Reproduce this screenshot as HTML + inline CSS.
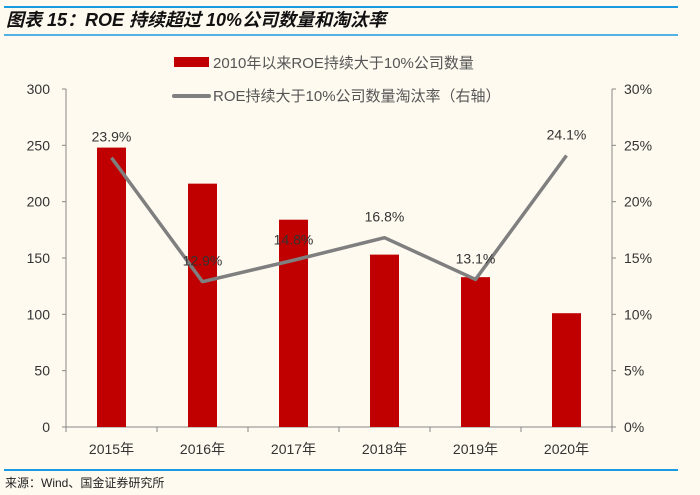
<!DOCTYPE html>
<html><head><meta charset="utf-8"><style>
body{margin:0;background:#fffaf0;}
svg{display:block;font-family:"Liberation Sans","Noto Sans CJK SC",sans-serif;}
</style></head><body>
<svg width="700" height="495">
<rect width="700" height="495" fill="#fffaf0"/>
<line x1="4" y1="7" x2="678" y2="7" stroke="#1a9ae0" stroke-width="2"/>
<text x="6" y="26" font-size="18" font-weight="bold" font-style="italic" fill="#111">图表 15：ROE 持续超过 10%公司数量和淘汰率</text>
<line x1="4" y1="35" x2="678" y2="35" stroke="#1a9ae0" stroke-width="1.5"/>
<rect x="174" y="57" width="35" height="10" fill="#c00000"/>
<text x="213" y="68" font-size="15" fill="#555">2010年以来ROE持续大于10%公司数量</text>
<line x1="174" y1="96" x2="209" y2="96" stroke="#7f7f7f" stroke-width="4" stroke-linecap="round"/>
<text x="213" y="101" font-size="15" fill="#555">ROE持续大于10%公司数量淘汰率（右轴）</text>
<g id="axes"></g><g id="marks"></g>
<line x1="4" y1="470" x2="678" y2="470" stroke="#1a9ae0" stroke-width="2"/>
<text x="5" y="487" font-size="12" fill="#222">来源：Wind、国金证券研究所</text>
</svg>
<script>
const categories=["2015年","2016年","2017年","2018年","2019年","2020年"];
const counts=[248,216,184,153,133,101];
const rates=[23.9,12.9,14.8,16.8,13.1,24.1];
const leftTicks=[0,50,100,150,200,250,300];
const rightTicks=[0,5,10,15,20,25,30];
const NS="http://www.w3.org/2000/svg";
const X0=66,X1=612,Y0=427,Y1=89;
const band=(X1-X0)/categories.length;
const xc=i=>X0+band*(i+0.5);
const yl=v=>Y0-(v/300)*(Y0-Y1);
const yr=v=>Y0-(v/30)*(Y0-Y1);
function mk(t,a,p){const e=document.createElementNS(NS,t);for(const k in a)e.setAttribute(k,a[k]);p.appendChild(e);return e;}
const ax=document.getElementById('axes'),mg=document.getElementById('marks');
let e;
e=mk('line',{x1:X0,y1:Y1,x2:X0,y2:Y0,stroke:'#888','stroke-width':1},ax);


e=mk('line',{x1:X1,y1:Y1,x2:X1,y2:Y0,stroke:'#888','stroke-width':1},ax);


e=mk('line',{x1:X0,y1:Y0,x2:X1,y2:Y0,stroke:'#888','stroke-width':1},ax);


leftTicks.forEach(v=>{const y=yl(v);
mk('line',{x1:X0-4,y1:y,x2:X0,y2:y,stroke:'#888'},ax);
e=mk('text',{x:50,y:y+5,'font-size':14,fill:'#333','text-anchor':'end'},ax);e.textContent=v;

});
rightTicks.forEach(v=>{const y=yr(v);
mk('line',{x1:X1,y1:y,x2:X1+4,y2:y,stroke:'#888'},ax);
e=mk('text',{x:624,y:y+5,'font-size':14,fill:'#333'},ax);e.textContent=v+'%';

});
for(let i=0;i<=categories.length;i++){mk('line',{x1:X0+band*i,y1:Y0,x2:X0+band*i,y2:Y0+5,stroke:'#888'},ax);}
categories.forEach((c,i)=>{e=mk('text',{x:xc(i),y:454,'font-size':14,fill:'#333','text-anchor':'middle'},ax);e.textContent=c;

});
counts.forEach((v,i)=>{e=mk('rect',{x:xc(i)-14.5,y:yl(v),width:29,height:Y0-yl(v),fill:'#c00000'},mg);

});
e=mk('polyline',{points:rates.map((v,i)=>xc(i)+','+yr(v)).join(' '),fill:'none',stroke:'#7f7f7f','stroke-width':3.5,'stroke-linejoin':'round'},mg);


rates.forEach((v,i)=>{e=mk('text',{x:xc(i),y:yr(v)-16,'font-size':14,fill:'#333','text-anchor':'middle'},mg);e.textContent=v.toFixed(1)+'%';

});
</script>
</body></html>
